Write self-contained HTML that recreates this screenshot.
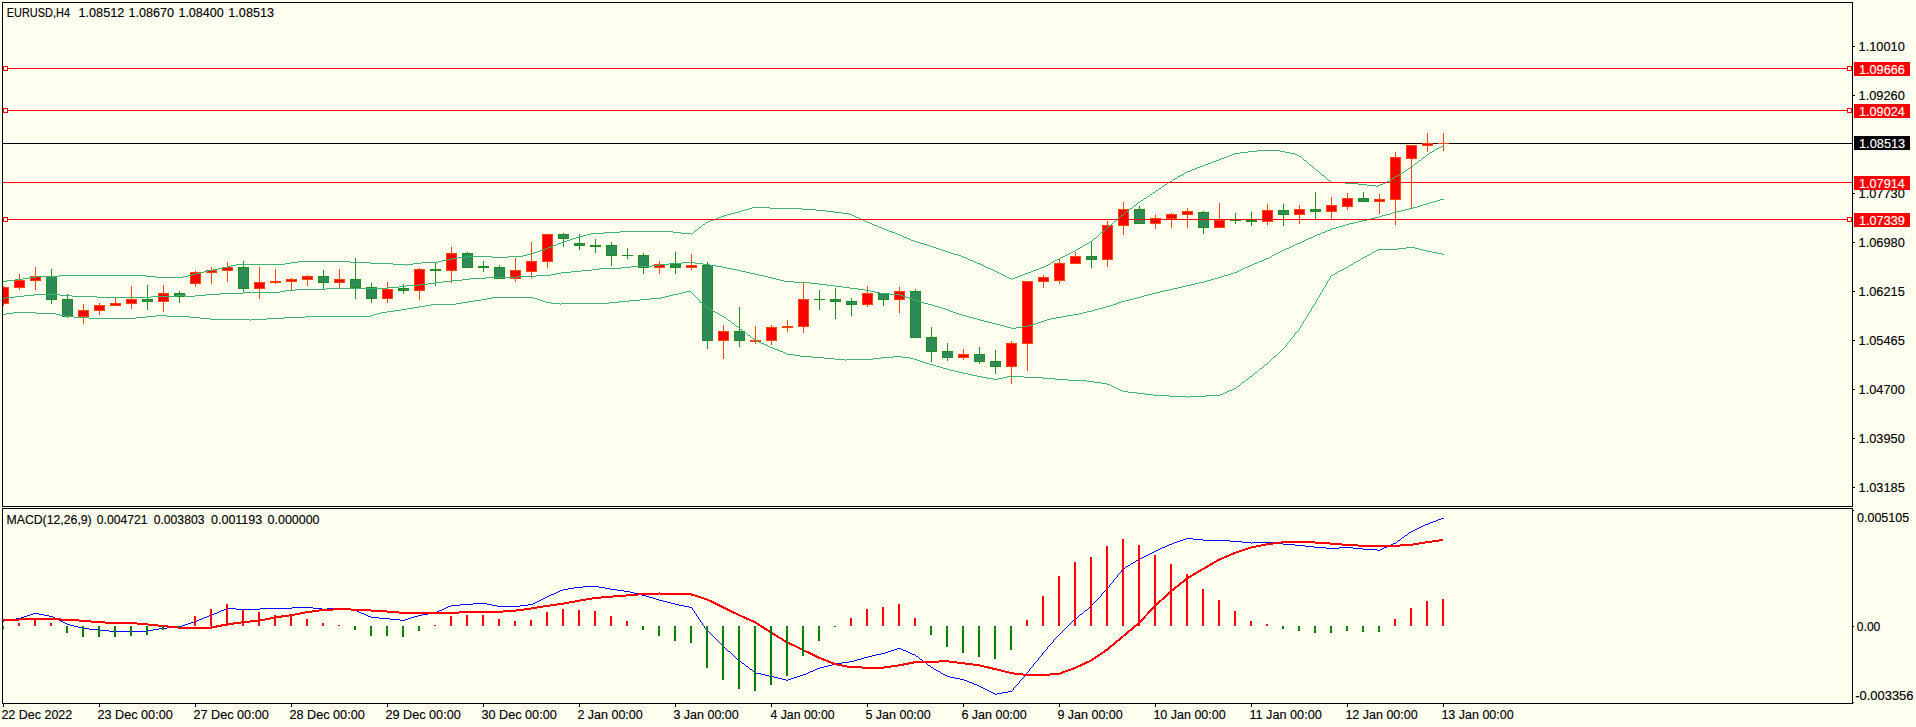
<!DOCTYPE html><html><head><meta charset="utf-8"><style>html,body{margin:0;padding:0;background:#FFFFF0;width:1916px;height:727px;overflow:hidden}svg{display:block}text{font-family:"Liberation Sans",sans-serif;font-size:12.5px;stroke-width:0.15px}</style></head><body>
<svg width="1916" height="727" viewBox="0 0 1916 727">
<rect x="0" y="0" width="1916" height="727" fill="#FFFFF0"/>
<defs><clipPath id="cm"><rect x="3" y="3" width="1849" height="503"/></clipPath><clipPath id="cd"><rect x="3" y="509" width="1849" height="194"/></clipPath></defs>
<g clip-path="url(#cm)" shape-rendering="crispEdges">
<rect x="3" y="143" width="1849" height="1" fill="#000000"/>
<rect x="3" y="286" width="1" height="20" fill="#FF4500"/>
<rect x="-2" y="287" width="11" height="17" fill="#FF4500"/>
<rect x="-1" y="288" width="9" height="15" fill="#FF0000"/>
<rect x="19" y="274" width="1" height="16" fill="#FF4500"/>
<rect x="14" y="280" width="11" height="8" fill="#FF4500"/>
<rect x="15" y="281" width="9" height="6" fill="#FF0000"/>
<rect x="35" y="267" width="1" height="23" fill="#FF4500"/>
<rect x="30" y="276" width="11" height="5" fill="#FF4500"/>
<rect x="31" y="277" width="9" height="3" fill="#FF0000"/>
<rect x="51" y="269" width="1" height="35" fill="#228B22"/>
<rect x="46" y="276" width="11" height="24" fill="#228B22"/>
<rect x="47" y="277" width="9" height="22" fill="#2E8B57"/>
<rect x="67" y="294" width="1" height="24" fill="#228B22"/>
<rect x="62" y="299" width="11" height="18" fill="#228B22"/>
<rect x="63" y="300" width="9" height="16" fill="#2E8B57"/>
<rect x="83" y="304" width="1" height="20" fill="#FF4500"/>
<rect x="78" y="310" width="11" height="7" fill="#FF4500"/>
<rect x="79" y="311" width="9" height="5" fill="#FF0000"/>
<rect x="99" y="303" width="1" height="12" fill="#FF4500"/>
<rect x="94" y="305" width="11" height="6" fill="#FF4500"/>
<rect x="95" y="306" width="9" height="4" fill="#FF0000"/>
<rect x="115" y="298" width="1" height="8" fill="#FF4500"/>
<rect x="110" y="303" width="11" height="3" fill="#FF4500"/>
<rect x="111" y="304" width="9" height="1" fill="#FF0000"/>
<rect x="131" y="286" width="1" height="23" fill="#FF4500"/>
<rect x="126" y="299" width="11" height="5" fill="#FF4500"/>
<rect x="127" y="300" width="9" height="3" fill="#FF0000"/>
<rect x="147" y="285" width="1" height="25" fill="#228B22"/>
<rect x="142" y="299" width="11" height="3" fill="#228B22"/>
<rect x="143" y="300" width="9" height="1" fill="#2E8B57"/>
<rect x="163" y="285" width="1" height="27" fill="#FF4500"/>
<rect x="158" y="293" width="11" height="9" fill="#FF4500"/>
<rect x="159" y="294" width="9" height="7" fill="#FF0000"/>
<rect x="179" y="291" width="1" height="12" fill="#228B22"/>
<rect x="174" y="293" width="11" height="4" fill="#228B22"/>
<rect x="175" y="294" width="9" height="2" fill="#2E8B57"/>
<rect x="195" y="271" width="1" height="16" fill="#FF4500"/>
<rect x="190" y="272" width="11" height="12" fill="#FF4500"/>
<rect x="191" y="273" width="9" height="10" fill="#FF0000"/>
<rect x="211" y="267" width="1" height="17" fill="#FF4500"/>
<rect x="206" y="270" width="11" height="3" fill="#FF4500"/>
<rect x="207" y="271" width="9" height="1" fill="#FF0000"/>
<rect x="227" y="262" width="1" height="20" fill="#FF4500"/>
<rect x="222" y="267" width="11" height="4" fill="#FF4500"/>
<rect x="223" y="268" width="9" height="2" fill="#FF0000"/>
<rect x="243" y="261" width="1" height="32" fill="#228B22"/>
<rect x="238" y="267" width="11" height="22" fill="#228B22"/>
<rect x="239" y="268" width="9" height="20" fill="#2E8B57"/>
<rect x="259" y="267" width="1" height="32" fill="#FF4500"/>
<rect x="254" y="282" width="11" height="7" fill="#FF4500"/>
<rect x="255" y="283" width="9" height="5" fill="#FF0000"/>
<rect x="275" y="269" width="1" height="15" fill="#FF4500"/>
<rect x="270" y="281" width="11" height="2" fill="#FF4500"/>
<rect x="291" y="278" width="1" height="12" fill="#FF4500"/>
<rect x="286" y="279" width="11" height="3" fill="#FF4500"/>
<rect x="287" y="280" width="9" height="1" fill="#FF0000"/>
<rect x="307" y="275" width="1" height="11" fill="#FF4500"/>
<rect x="302" y="276" width="11" height="4" fill="#FF4500"/>
<rect x="303" y="277" width="9" height="2" fill="#FF0000"/>
<rect x="323" y="270" width="1" height="19" fill="#228B22"/>
<rect x="318" y="276" width="11" height="7" fill="#228B22"/>
<rect x="319" y="277" width="9" height="5" fill="#2E8B57"/>
<rect x="339" y="269" width="1" height="19" fill="#FF4500"/>
<rect x="334" y="279" width="11" height="4" fill="#FF4500"/>
<rect x="335" y="280" width="9" height="2" fill="#FF0000"/>
<rect x="355" y="258" width="1" height="41" fill="#228B22"/>
<rect x="350" y="279" width="11" height="9" fill="#228B22"/>
<rect x="351" y="280" width="9" height="7" fill="#2E8B57"/>
<rect x="371" y="283" width="1" height="20" fill="#228B22"/>
<rect x="366" y="287" width="11" height="12" fill="#228B22"/>
<rect x="367" y="288" width="9" height="10" fill="#2E8B57"/>
<rect x="387" y="282" width="1" height="21" fill="#FF4500"/>
<rect x="382" y="289" width="11" height="10" fill="#FF4500"/>
<rect x="383" y="290" width="9" height="8" fill="#FF0000"/>
<rect x="403" y="284" width="1" height="10" fill="#228B22"/>
<rect x="398" y="288" width="11" height="3" fill="#228B22"/>
<rect x="399" y="289" width="9" height="1" fill="#2E8B57"/>
<rect x="419" y="268" width="1" height="32" fill="#FF4500"/>
<rect x="414" y="269" width="11" height="22" fill="#FF4500"/>
<rect x="415" y="270" width="9" height="20" fill="#FF0000"/>
<rect x="435" y="262" width="1" height="24" fill="#228B22"/>
<rect x="430" y="269" width="11" height="2" fill="#228B22"/>
<rect x="451" y="247" width="1" height="36" fill="#FF4500"/>
<rect x="446" y="253" width="11" height="18" fill="#FF4500"/>
<rect x="447" y="254" width="9" height="16" fill="#FF0000"/>
<rect x="467" y="252" width="1" height="16" fill="#228B22"/>
<rect x="462" y="253" width="11" height="15" fill="#228B22"/>
<rect x="463" y="254" width="9" height="13" fill="#2E8B57"/>
<rect x="483" y="261" width="1" height="11" fill="#228B22"/>
<rect x="478" y="266" width="11" height="2" fill="#228B22"/>
<rect x="499" y="265" width="1" height="14" fill="#228B22"/>
<rect x="494" y="267" width="11" height="12" fill="#228B22"/>
<rect x="495" y="268" width="9" height="10" fill="#2E8B57"/>
<rect x="515" y="258" width="1" height="24" fill="#FF4500"/>
<rect x="510" y="270" width="11" height="9" fill="#FF4500"/>
<rect x="511" y="271" width="9" height="7" fill="#FF0000"/>
<rect x="531" y="242" width="1" height="36" fill="#FF4500"/>
<rect x="526" y="261" width="11" height="11" fill="#FF4500"/>
<rect x="527" y="262" width="9" height="9" fill="#FF0000"/>
<rect x="547" y="234" width="1" height="34" fill="#FF4500"/>
<rect x="542" y="234" width="11" height="28" fill="#FF4500"/>
<rect x="543" y="235" width="9" height="26" fill="#FF0000"/>
<rect x="563" y="233" width="1" height="14" fill="#228B22"/>
<rect x="558" y="234" width="11" height="5" fill="#228B22"/>
<rect x="559" y="235" width="9" height="3" fill="#2E8B57"/>
<rect x="579" y="234" width="1" height="16" fill="#228B22"/>
<rect x="574" y="243" width="11" height="3" fill="#228B22"/>
<rect x="575" y="244" width="9" height="1" fill="#2E8B57"/>
<rect x="595" y="239" width="1" height="14" fill="#228B22"/>
<rect x="590" y="245" width="11" height="2" fill="#228B22"/>
<rect x="611" y="242" width="1" height="24" fill="#228B22"/>
<rect x="606" y="245" width="11" height="11" fill="#228B22"/>
<rect x="607" y="246" width="9" height="9" fill="#2E8B57"/>
<rect x="627" y="248" width="1" height="11" fill="#228B22"/>
<rect x="622" y="255" width="11" height="1" fill="#228B22"/>
<rect x="643" y="253" width="1" height="21" fill="#228B22"/>
<rect x="638" y="255" width="11" height="13" fill="#228B22"/>
<rect x="639" y="256" width="9" height="11" fill="#2E8B57"/>
<rect x="659" y="261" width="1" height="13" fill="#FF4500"/>
<rect x="654" y="264" width="11" height="4" fill="#FF4500"/>
<rect x="655" y="265" width="9" height="2" fill="#FF0000"/>
<rect x="675" y="252" width="1" height="22" fill="#228B22"/>
<rect x="670" y="264" width="11" height="4" fill="#228B22"/>
<rect x="671" y="265" width="9" height="2" fill="#2E8B57"/>
<rect x="691" y="254" width="1" height="16" fill="#FF4500"/>
<rect x="686" y="265" width="11" height="3" fill="#FF4500"/>
<rect x="687" y="266" width="9" height="1" fill="#FF0000"/>
<rect x="707" y="262" width="1" height="87" fill="#228B22"/>
<rect x="702" y="265" width="11" height="76" fill="#228B22"/>
<rect x="703" y="266" width="9" height="74" fill="#2E8B57"/>
<rect x="723" y="325" width="1" height="34" fill="#FF4500"/>
<rect x="718" y="331" width="11" height="10" fill="#FF4500"/>
<rect x="719" y="332" width="9" height="8" fill="#FF0000"/>
<rect x="739" y="307" width="1" height="40" fill="#228B22"/>
<rect x="734" y="331" width="11" height="10" fill="#228B22"/>
<rect x="735" y="332" width="9" height="8" fill="#2E8B57"/>
<rect x="755" y="326" width="1" height="18" fill="#FF4500"/>
<rect x="750" y="340" width="11" height="2" fill="#FF4500"/>
<rect x="771" y="325" width="1" height="20" fill="#FF4500"/>
<rect x="766" y="327" width="11" height="14" fill="#FF4500"/>
<rect x="767" y="328" width="9" height="12" fill="#FF0000"/>
<rect x="787" y="320" width="1" height="12" fill="#FF4500"/>
<rect x="782" y="326" width="11" height="2" fill="#FF4500"/>
<rect x="803" y="283" width="1" height="50" fill="#FF4500"/>
<rect x="798" y="299" width="11" height="28" fill="#FF4500"/>
<rect x="799" y="300" width="9" height="26" fill="#FF0000"/>
<rect x="819" y="290" width="1" height="20" fill="#228B22"/>
<rect x="814" y="299" width="11" height="1" fill="#228B22"/>
<rect x="835" y="288" width="1" height="31" fill="#228B22"/>
<rect x="830" y="299" width="11" height="3" fill="#228B22"/>
<rect x="831" y="300" width="9" height="1" fill="#2E8B57"/>
<rect x="851" y="298" width="1" height="18" fill="#228B22"/>
<rect x="846" y="301" width="11" height="4" fill="#228B22"/>
<rect x="847" y="302" width="9" height="2" fill="#2E8B57"/>
<rect x="867" y="286" width="1" height="21" fill="#FF4500"/>
<rect x="862" y="293" width="11" height="12" fill="#FF4500"/>
<rect x="863" y="294" width="9" height="10" fill="#FF0000"/>
<rect x="883" y="293" width="1" height="13" fill="#228B22"/>
<rect x="878" y="293" width="11" height="7" fill="#228B22"/>
<rect x="879" y="294" width="9" height="5" fill="#2E8B57"/>
<rect x="899" y="287" width="1" height="26" fill="#FF4500"/>
<rect x="894" y="291" width="11" height="9" fill="#FF4500"/>
<rect x="895" y="292" width="9" height="7" fill="#FF0000"/>
<rect x="915" y="289" width="1" height="49" fill="#228B22"/>
<rect x="910" y="291" width="11" height="47" fill="#228B22"/>
<rect x="911" y="292" width="9" height="45" fill="#2E8B57"/>
<rect x="931" y="327" width="1" height="35" fill="#228B22"/>
<rect x="926" y="337" width="11" height="15" fill="#228B22"/>
<rect x="927" y="338" width="9" height="13" fill="#2E8B57"/>
<rect x="947" y="343" width="1" height="18" fill="#228B22"/>
<rect x="942" y="351" width="11" height="7" fill="#228B22"/>
<rect x="943" y="352" width="9" height="5" fill="#2E8B57"/>
<rect x="963" y="349" width="1" height="11" fill="#FF4500"/>
<rect x="958" y="354" width="11" height="4" fill="#FF4500"/>
<rect x="959" y="355" width="9" height="2" fill="#FF0000"/>
<rect x="979" y="347" width="1" height="17" fill="#228B22"/>
<rect x="974" y="354" width="11" height="8" fill="#228B22"/>
<rect x="975" y="355" width="9" height="6" fill="#2E8B57"/>
<rect x="995" y="350" width="1" height="24" fill="#228B22"/>
<rect x="990" y="361" width="11" height="6" fill="#228B22"/>
<rect x="991" y="362" width="9" height="4" fill="#2E8B57"/>
<rect x="1011" y="341" width="1" height="43" fill="#FF4500"/>
<rect x="1006" y="343" width="11" height="24" fill="#FF4500"/>
<rect x="1007" y="344" width="9" height="22" fill="#FF0000"/>
<rect x="1027" y="281" width="1" height="90" fill="#FF4500"/>
<rect x="1022" y="281" width="11" height="63" fill="#FF4500"/>
<rect x="1023" y="282" width="9" height="61" fill="#FF0000"/>
<rect x="1043" y="275" width="1" height="13" fill="#FF4500"/>
<rect x="1038" y="277" width="11" height="5" fill="#FF4500"/>
<rect x="1039" y="278" width="9" height="3" fill="#FF0000"/>
<rect x="1059" y="259" width="1" height="25" fill="#FF4500"/>
<rect x="1054" y="263" width="11" height="18" fill="#FF4500"/>
<rect x="1055" y="264" width="9" height="16" fill="#FF0000"/>
<rect x="1075" y="252" width="1" height="12" fill="#FF4500"/>
<rect x="1070" y="256" width="11" height="8" fill="#FF4500"/>
<rect x="1071" y="257" width="9" height="6" fill="#FF0000"/>
<rect x="1091" y="241" width="1" height="27" fill="#228B22"/>
<rect x="1086" y="256" width="11" height="4" fill="#228B22"/>
<rect x="1087" y="257" width="9" height="2" fill="#2E8B57"/>
<rect x="1107" y="221" width="1" height="46" fill="#FF4500"/>
<rect x="1102" y="225" width="11" height="35" fill="#FF4500"/>
<rect x="1103" y="226" width="9" height="33" fill="#FF0000"/>
<rect x="1123" y="202" width="1" height="33" fill="#FF4500"/>
<rect x="1118" y="209" width="11" height="17" fill="#FF4500"/>
<rect x="1119" y="210" width="9" height="15" fill="#FF0000"/>
<rect x="1139" y="206" width="1" height="18" fill="#228B22"/>
<rect x="1134" y="209" width="11" height="15" fill="#228B22"/>
<rect x="1135" y="210" width="9" height="13" fill="#2E8B57"/>
<rect x="1155" y="215" width="1" height="14" fill="#FF4500"/>
<rect x="1150" y="218" width="11" height="6" fill="#FF4500"/>
<rect x="1151" y="219" width="9" height="4" fill="#FF0000"/>
<rect x="1171" y="213" width="1" height="15" fill="#FF4500"/>
<rect x="1166" y="214" width="11" height="5" fill="#FF4500"/>
<rect x="1167" y="215" width="9" height="3" fill="#FF0000"/>
<rect x="1187" y="208" width="1" height="20" fill="#FF4500"/>
<rect x="1182" y="211" width="11" height="4" fill="#FF4500"/>
<rect x="1183" y="212" width="9" height="2" fill="#FF0000"/>
<rect x="1203" y="211" width="1" height="23" fill="#228B22"/>
<rect x="1198" y="212" width="11" height="16" fill="#228B22"/>
<rect x="1199" y="213" width="9" height="14" fill="#2E8B57"/>
<rect x="1219" y="203" width="1" height="25" fill="#FF4500"/>
<rect x="1214" y="220" width="11" height="8" fill="#FF4500"/>
<rect x="1215" y="221" width="9" height="6" fill="#FF0000"/>
<rect x="1235" y="213" width="1" height="11" fill="#228B22"/>
<rect x="1230" y="220" width="11" height="1" fill="#228B22"/>
<rect x="1251" y="212" width="1" height="14" fill="#228B22"/>
<rect x="1246" y="220" width="11" height="2" fill="#228B22"/>
<rect x="1267" y="204" width="1" height="21" fill="#FF4500"/>
<rect x="1262" y="210" width="11" height="12" fill="#FF4500"/>
<rect x="1263" y="211" width="9" height="10" fill="#FF0000"/>
<rect x="1283" y="204" width="1" height="22" fill="#228B22"/>
<rect x="1278" y="210" width="11" height="5" fill="#228B22"/>
<rect x="1279" y="211" width="9" height="3" fill="#2E8B57"/>
<rect x="1299" y="205" width="1" height="19" fill="#FF4500"/>
<rect x="1294" y="209" width="11" height="6" fill="#FF4500"/>
<rect x="1295" y="210" width="9" height="4" fill="#FF0000"/>
<rect x="1315" y="192" width="1" height="28" fill="#228B22"/>
<rect x="1310" y="209" width="11" height="3" fill="#228B22"/>
<rect x="1311" y="210" width="9" height="1" fill="#2E8B57"/>
<rect x="1331" y="197" width="1" height="23" fill="#FF4500"/>
<rect x="1326" y="205" width="11" height="7" fill="#FF4500"/>
<rect x="1327" y="206" width="9" height="5" fill="#FF0000"/>
<rect x="1347" y="193" width="1" height="17" fill="#FF4500"/>
<rect x="1342" y="198" width="11" height="9" fill="#FF4500"/>
<rect x="1343" y="199" width="9" height="7" fill="#FF0000"/>
<rect x="1363" y="192" width="1" height="10" fill="#228B22"/>
<rect x="1358" y="198" width="11" height="4" fill="#228B22"/>
<rect x="1359" y="199" width="9" height="2" fill="#2E8B57"/>
<rect x="1379" y="194" width="1" height="20" fill="#FF4500"/>
<rect x="1374" y="199" width="11" height="3" fill="#FF4500"/>
<rect x="1375" y="200" width="9" height="1" fill="#FF0000"/>
<rect x="1395" y="152" width="1" height="73" fill="#FF4500"/>
<rect x="1390" y="157" width="11" height="43" fill="#FF4500"/>
<rect x="1391" y="158" width="9" height="41" fill="#FF0000"/>
<rect x="1411" y="145" width="1" height="64" fill="#FF4500"/>
<rect x="1406" y="145" width="11" height="14" fill="#FF4500"/>
<rect x="1407" y="146" width="9" height="12" fill="#FF0000"/>
<rect x="1427" y="133" width="1" height="19" fill="#FF4500"/>
<rect x="1422" y="143" width="11" height="3" fill="#FF4500"/>
<rect x="1423" y="144" width="9" height="1" fill="#FF0000"/>
<rect x="1443" y="133" width="1" height="18" fill="#FF4500"/>
<rect x="1438" y="143" width="11" height="1" fill="#FF4500"/>
</g>
<g clip-path="url(#cm)">
<path fill="#3CB371" d="M1443 145h1v1h-1zM1441 146h2v1h-2zM1439 147h2v1h-2zM1437 148h2v1h-2zM1435 149h2v1h-2zM1257 150h23v1h-23zM1434 150h1v1h-1zM1248 151h9v1h-9zM1280 151h5v1h-5zM1432 151h2v1h-2zM1240 152h8v1h-8zM1285 152h5v1h-5zM1430 152h2v1h-2zM1234 153h6v1h-6zM1290 153h5v1h-5zM1429 153h1v1h-1zM1232 154h2v1h-2zM1295 154h2v1h-2zM1427 154h2v1h-2zM1229 155h3v1h-3zM1297 155h2v1h-2zM1426 155h1v1h-1zM1227 156h2v1h-2zM1299 156h2v1h-2zM1425 156h1v1h-1zM1224 157h3v1h-3zM1301 157h1v1h-1zM1423 157h2v1h-2zM1221 158h3v1h-3zM1302 158h1v1h-1zM1422 158h1v1h-1zM1219 159h2v1h-2zM1303 159h1v1h-1zM1421 159h1v1h-1zM1216 160h3v1h-3zM1304 160h2v1h-2zM1419 160h2v1h-2zM1213 161h3v1h-3zM1306 161h1v1h-1zM1418 161h1v1h-1zM1211 162h2v1h-2zM1307 162h1v1h-1zM1417 162h1v1h-1zM1208 163h3v1h-3zM1308 163h1v1h-1zM1415 163h2v1h-2zM1205 164h3v1h-3zM1309 164h1v1h-1zM1414 164h1v1h-1zM1203 165h2v1h-2zM1310 165h2v1h-2zM1413 165h1v1h-1zM1200 166h3v1h-3zM1312 166h1v1h-1zM1411 166h2v1h-2zM1197 167h3v1h-3zM1313 167h1v1h-1zM1410 167h1v1h-1zM1195 168h2v1h-2zM1314 168h1v1h-1zM1408 168h2v1h-2zM1192 169h3v1h-3zM1315 169h1v1h-1zM1407 169h1v1h-1zM1190 170h2v1h-2zM1316 170h2v1h-2zM1405 170h2v1h-2zM1187 171h3v1h-3zM1318 171h1v1h-1zM1404 171h1v1h-1zM1185 172h2v1h-2zM1319 172h1v1h-1zM1402 172h2v1h-2zM1184 173h1v1h-1zM1320 173h1v1h-1zM1400 173h2v1h-2zM1182 174h2v1h-2zM1321 174h1v1h-1zM1399 174h1v1h-1zM1180 175h2v1h-2zM1322 175h2v1h-2zM1397 175h2v1h-2zM1178 176h2v1h-2zM1324 176h1v1h-1zM1395 176h2v1h-2zM1177 177h1v1h-1zM1325 177h1v1h-1zM1394 177h1v1h-1zM1175 178h2v1h-2zM1326 178h1v1h-1zM1392 178h2v1h-2zM1173 179h2v1h-2zM1327 179h1v1h-1zM1391 179h1v1h-1zM1172 180h1v1h-1zM1328 180h2v1h-2zM1389 180h2v1h-2zM1170 181h2v1h-2zM1330 181h1v1h-1zM1387 181h2v1h-2zM1168 182h2v1h-2zM1331 182h14v1h-14zM1385 182h2v1h-2zM1167 183h1v1h-1zM1345 183h13v1h-13zM1383 183h2v1h-2zM1165 184h2v1h-2zM1358 184h9v1h-9zM1380 184h3v1h-3zM1164 185h1v1h-1zM1367 185h9v1h-9zM1378 185h2v1h-2zM1162 186h2v1h-2zM1376 186h2v1h-2zM1161 187h1v1h-1zM1159 188h2v1h-2zM1158 189h1v1h-1zM1156 190h2v1h-2zM1155 191h1v1h-1zM1153 192h2v1h-2zM1152 193h1v1h-1zM1150 194h2v1h-2zM1149 195h1v1h-1zM1147 196h2v1h-2zM1146 197h1v1h-1zM1144 198h2v1h-2zM1143 199h1v1h-1zM1141 200h2v1h-2zM1140 201h1v1h-1zM1138 202h2v1h-2zM1137 203h1v1h-1zM1136 204h1v1h-1zM1134 205h2v1h-2zM1133 206h1v1h-1zM752 207h18v1h-18zM1132 207h1v1h-1zM749 208h3v1h-3zM770 208h32v1h-32zM1130 208h2v1h-2zM745 209h4v1h-4zM802 209h14v1h-14zM1129 209h1v1h-1zM742 210h3v1h-3zM816 210h10v1h-10zM1128 210h1v1h-1zM739 211h3v1h-3zM826 211h8v1h-8zM1126 211h2v1h-2zM735 212h4v1h-4zM834 212h8v1h-8zM1125 212h1v1h-1zM731 213h4v1h-4zM842 213h7v1h-7zM1124 213h1v1h-1zM727 214h4v1h-4zM849 214h3v1h-3zM1123 214h1v1h-1zM724 215h3v1h-3zM852 215h2v1h-2zM1121 215h2v1h-2zM721 216h3v1h-3zM854 216h2v1h-2zM1120 216h1v1h-1zM718 217h3v1h-3zM856 217h3v1h-3zM1119 217h1v1h-1zM716 218h2v1h-2zM859 218h2v1h-2zM1118 218h1v1h-1zM713 219h3v1h-3zM861 219h2v1h-2zM1117 219h1v1h-1zM710 220h3v1h-3zM863 220h2v1h-2zM1116 220h1v1h-1zM708 221h2v1h-2zM865 221h2v1h-2zM1114 221h2v1h-2zM706 222h2v1h-2zM867 222h3v1h-3zM1113 222h1v1h-1zM705 223h1v1h-1zM870 223h2v1h-2zM1112 223h1v1h-1zM703 224h2v1h-2zM872 224h2v1h-2zM1111 224h1v1h-1zM702 225h1v1h-1zM874 225h3v1h-3zM1110 225h1v1h-1zM701 226h1v1h-1zM877 226h2v1h-2zM1108 226h2v1h-2zM699 227h2v1h-2zM879 227h3v1h-3zM1107 227h1v1h-1zM698 228h1v1h-1zM882 228h2v1h-2zM1106 228h1v1h-1zM697 229h1v1h-1zM884 229h3v1h-3zM1105 229h1v1h-1zM695 230h2v1h-2zM887 230h2v1h-2zM1104 230h1v1h-1zM620 231h53v1h-53zM694 231h1v1h-1zM889 231h3v1h-3zM1103 231h1v1h-1zM604 232h16v1h-16zM673 232h8v1h-8zM693 232h1v1h-1zM892 232h3v1h-3zM1101 232h2v1h-2zM591 233h13v1h-13zM681 233h10v1h-10zM692 233h1v1h-1zM895 233h2v1h-2zM1100 233h1v1h-1zM587 234h4v1h-4zM691 234h1v1h-1zM897 234h3v1h-3zM1099 234h1v1h-1zM583 235h4v1h-4zM900 235h2v1h-2zM1098 235h1v1h-1zM579 236h4v1h-4zM902 236h2v1h-2zM1097 236h1v1h-1zM576 237h3v1h-3zM904 237h3v1h-3zM1096 237h1v1h-1zM573 238h3v1h-3zM907 238h2v1h-2zM1094 238h2v1h-2zM570 239h3v1h-3zM909 239h2v1h-2zM1093 239h1v1h-1zM567 240h3v1h-3zM911 240h3v1h-3zM1092 240h1v1h-1zM564 241h3v1h-3zM914 241h3v1h-3zM1090 241h2v1h-2zM561 242h3v1h-3zM917 242h3v1h-3zM1089 242h1v1h-1zM558 243h3v1h-3zM920 243h4v1h-4zM1087 243h2v1h-2zM556 244h2v1h-2zM924 244h3v1h-3zM1085 244h2v1h-2zM553 245h3v1h-3zM927 245h3v1h-3zM1083 245h2v1h-2zM551 246h2v1h-2zM930 246h3v1h-3zM1082 246h1v1h-1zM548 247h3v1h-3zM933 247h3v1h-3zM1080 247h2v1h-2zM546 248h2v1h-2zM936 248h3v1h-3zM1078 248h2v1h-2zM543 249h3v1h-3zM939 249h3v1h-3zM1076 249h2v1h-2zM540 250h3v1h-3zM942 250h3v1h-3zM1075 250h1v1h-1zM537 251h3v1h-3zM945 251h3v1h-3zM1073 251h2v1h-2zM534 252h3v1h-3zM948 252h3v1h-3zM1071 252h2v1h-2zM532 253h2v1h-2zM951 253h3v1h-3zM1069 253h2v1h-2zM527 254h5v1h-5zM954 254h4v1h-4zM1067 254h2v1h-2zM523 255h4v1h-4zM958 255h3v1h-3zM1065 255h2v1h-2zM466 256h26v1h-26zM508 256h15v1h-15zM961 256h2v1h-2zM1063 256h2v1h-2zM458 257h8v1h-8zM492 257h16v1h-16zM963 257h3v1h-3zM1061 257h2v1h-2zM452 258h6v1h-6zM966 258h2v1h-2zM1059 258h2v1h-2zM447 259h5v1h-5zM968 259h2v1h-2zM1057 259h2v1h-2zM442 260h5v1h-5zM970 260h3v1h-3zM1055 260h2v1h-2zM298 261h52v1h-52zM438 261h4v1h-4zM973 261h2v1h-2zM1053 261h2v1h-2zM291 262h7v1h-7zM350 262h20v1h-20zM421 262h17v1h-17zM975 262h2v1h-2zM1051 262h2v1h-2zM285 263h6v1h-6zM370 263h23v1h-23zM413 263h8v1h-8zM977 263h3v1h-3zM1050 263h1v1h-1zM236 264h49v1h-49zM393 264h13v1h-13zM407 264h6v1h-6zM980 264h2v1h-2zM1048 264h2v1h-2zM231 265h5v1h-5zM406 265h1v1h-1zM982 265h2v1h-2zM1046 265h2v1h-2zM227 266h4v1h-4zM984 266h2v1h-2zM1044 266h2v1h-2zM223 267h4v1h-4zM986 267h2v1h-2zM1041 267h3v1h-3zM218 268h5v1h-5zM988 268h3v1h-3zM1039 268h2v1h-2zM213 269h5v1h-5zM991 269h2v1h-2zM1036 269h3v1h-3zM208 270h5v1h-5zM993 270h2v1h-2zM1033 270h3v1h-3zM204 271h4v1h-4zM995 271h2v1h-2zM1031 271h2v1h-2zM200 272h4v1h-4zM997 272h2v1h-2zM1028 272h3v1h-3zM196 273h4v1h-4zM999 273h2v1h-2zM1025 273h3v1h-3zM192 274h4v1h-4zM1001 274h2v1h-2zM1023 274h2v1h-2zM59 275h87v1h-87zM188 275h4v1h-4zM1003 275h2v1h-2zM1020 275h3v1h-3zM36 276h23v1h-23zM146 276h10v1h-10zM183 276h5v1h-5zM1005 276h2v1h-2zM1018 276h2v1h-2zM29 277h7v1h-7zM156 277h27v1h-27zM1007 277h2v1h-2zM1015 277h3v1h-3zM23 278h6v1h-6zM1009 278h2v1h-2zM1012 278h3v1h-3zM15 279h8v1h-8zM1011 279h1v1h-1zM7 280h8v1h-8zM0 281h7v1h-7z"/>
<path fill="#3CB371" d="M1440 199h4v1h-4zM1437 200h3v1h-3zM1433 201h4v1h-4zM1430 202h3v1h-3zM1427 203h3v1h-3zM1423 204h4v1h-4zM1420 205h3v1h-3zM1417 206h3v1h-3zM1413 207h4v1h-4zM1409 208h4v1h-4zM1405 209h4v1h-4zM1401 210h4v1h-4zM1397 211h4v1h-4zM1393 212h4v1h-4zM1390 213h3v1h-3zM1386 214h4v1h-4zM1382 215h4v1h-4zM1379 216h3v1h-3zM1375 217h4v1h-4zM1371 218h4v1h-4zM1367 219h4v1h-4zM1362 220h5v1h-5zM1358 221h4v1h-4zM1354 222h4v1h-4zM1349 223h5v1h-5zM1346 224h3v1h-3zM1343 225h3v1h-3zM1339 226h4v1h-4zM1336 227h3v1h-3zM1332 228h4v1h-4zM1330 229h2v1h-2zM1327 230h3v1h-3zM1325 231h2v1h-2zM1322 232h3v1h-3zM1320 233h2v1h-2zM1317 234h3v1h-3zM1315 235h2v1h-2zM1313 236h2v1h-2zM1311 237h2v1h-2zM1308 238h3v1h-3zM1306 239h2v1h-2zM1304 240h2v1h-2zM1302 241h2v1h-2zM1300 242h2v1h-2zM1297 243h3v1h-3zM1295 244h2v1h-2zM1293 245h2v1h-2zM1291 246h2v1h-2zM1289 247h2v1h-2zM1286 248h3v1h-3zM1284 249h2v1h-2zM1282 250h2v1h-2zM1280 251h2v1h-2zM1278 252h2v1h-2zM1276 253h2v1h-2zM1274 254h2v1h-2zM1272 255h2v1h-2zM1271 256h1v1h-1zM1269 257h2v1h-2zM1266 258h3v1h-3zM1264 259h2v1h-2zM1262 260h2v1h-2zM1259 261h3v1h-3zM682 262h13v1h-13zM1257 262h2v1h-2zM669 263h13v1h-13zM695 263h8v1h-8zM1254 263h3v1h-3zM660 264h9v1h-9zM703 264h7v1h-7zM1252 264h2v1h-2zM652 265h8v1h-8zM710 265h6v1h-6zM1250 265h2v1h-2zM631 266h21v1h-21zM716 266h6v1h-6zM1248 266h2v1h-2zM621 267h10v1h-10zM722 267h5v1h-5zM1245 267h3v1h-3zM599 268h22v1h-22zM727 268h5v1h-5zM1243 268h2v1h-2zM592 269h7v1h-7zM732 269h5v1h-5zM1241 269h2v1h-2zM581 270h11v1h-11zM737 270h4v1h-4zM1239 270h2v1h-2zM571 271h10v1h-10zM741 271h5v1h-5zM1237 271h2v1h-2zM561 272h10v1h-10zM746 272h4v1h-4zM1234 272h3v1h-3zM556 273h5v1h-5zM750 273h5v1h-5zM1231 273h3v1h-3zM551 274h5v1h-5zM755 274h4v1h-4zM1228 274h3v1h-3zM536 275h15v1h-15zM759 275h5v1h-5zM1224 275h4v1h-4zM517 276h19v1h-19zM764 276h4v1h-4zM1221 276h3v1h-3zM486 277h31v1h-31zM768 277h4v1h-4zM1218 277h3v1h-3zM470 278h16v1h-16zM772 278h4v1h-4zM1214 278h4v1h-4zM462 279h8v1h-8zM776 279h4v1h-4zM1211 279h3v1h-3zM452 280h10v1h-10zM780 280h4v1h-4zM1207 280h4v1h-4zM443 281h9v1h-9zM784 281h10v1h-10zM1204 281h3v1h-3zM436 282h7v1h-7zM794 282h16v1h-16zM1199 282h5v1h-5zM428 283h8v1h-8zM810 283h9v1h-9zM1195 283h4v1h-4zM419 284h9v1h-9zM819 284h8v1h-8zM1191 284h4v1h-4zM406 285h13v1h-13zM827 285h8v1h-8zM1186 285h5v1h-5zM399 286h7v1h-7zM835 286h8v1h-8zM1182 286h4v1h-4zM388 287h11v1h-11zM843 287h7v1h-7zM1178 287h4v1h-4zM326 288h62v1h-62zM850 288h8v1h-8zM1173 288h5v1h-5zM295 289h31v1h-31zM858 289h7v1h-7zM1169 289h4v1h-4zM285 290h10v1h-10zM865 290h5v1h-5zM1164 290h5v1h-5zM280 291h5v1h-5zM870 291h5v1h-5zM1160 291h4v1h-4zM243 292h37v1h-37zM875 292h5v1h-5zM1156 292h4v1h-4zM220 293h23v1h-23zM880 293h10v1h-10zM1152 293h4v1h-4zM34 294h26v1h-26zM206 294h14v1h-14zM890 294h10v1h-10zM1148 294h4v1h-4zM24 295h10v1h-10zM60 295h12v1h-12zM177 295h9v1h-9zM195 295h11v1h-11zM900 295h3v1h-3zM1144 295h4v1h-4zM15 296h9v1h-9zM72 296h25v1h-25zM151 296h26v1h-26zM186 296h9v1h-9zM903 296h3v1h-3zM1141 296h3v1h-3zM6 297h9v1h-9zM97 297h54v1h-54zM906 297h3v1h-3zM1137 297h4v1h-4zM0 298h6v1h-6zM909 298h3v1h-3zM1133 298h4v1h-4zM912 299h3v1h-3zM1129 299h4v1h-4zM915 300h3v1h-3zM1125 300h4v1h-4zM918 301h2v1h-2zM1121 301h4v1h-4zM920 302h4v1h-4zM1118 302h3v1h-3zM924 303h4v1h-4zM1116 303h2v1h-2zM928 304h4v1h-4zM1113 304h3v1h-3zM932 305h3v1h-3zM1110 305h3v1h-3zM935 306h4v1h-4zM1106 306h4v1h-4zM939 307h3v1h-3zM1103 307h3v1h-3zM942 308h3v1h-3zM1099 308h4v1h-4zM945 309h3v1h-3zM1095 309h4v1h-4zM948 310h2v1h-2zM1092 310h3v1h-3zM950 311h3v1h-3zM1087 311h5v1h-5zM953 312h3v1h-3zM1083 312h4v1h-4zM956 313h3v1h-3zM1079 313h4v1h-4zM959 314h3v1h-3zM1073 314h6v1h-6zM962 315h4v1h-4zM1067 315h6v1h-6zM966 316h3v1h-3zM1062 316h5v1h-5zM969 317h4v1h-4zM1056 317h6v1h-6zM973 318h4v1h-4zM1051 318h5v1h-5zM977 319h3v1h-3zM1047 319h4v1h-4zM980 320h4v1h-4zM1044 320h3v1h-3zM984 321h4v1h-4zM1041 321h3v1h-3zM988 322h4v1h-4zM1038 322h3v1h-3zM992 323h4v1h-4zM1035 323h3v1h-3zM996 324h4v1h-4zM1032 324h3v1h-3zM1000 325h4v1h-4zM1028 325h4v1h-4zM1004 326h3v1h-3zM1022 326h6v1h-6zM1007 327h4v1h-4zM1016 327h6v1h-6zM1011 328h5v1h-5z"/>
<path fill="#3CB371" d="M1406 247h9v1h-9zM1398 248h8v1h-8zM1415 248h4v1h-4zM1378 249h20v1h-20zM1419 249h4v1h-4zM1376 250h2v1h-2zM1423 250h4v1h-4zM1374 251h2v1h-2zM1427 251h5v1h-5zM1372 252h2v1h-2zM1432 252h5v1h-5zM1371 253h1v1h-1zM1437 253h5v1h-5zM1369 254h2v1h-2zM1442 254h2v1h-2zM1367 255h2v1h-2zM1365 256h2v1h-2zM1363 257h2v1h-2zM1361 258h2v1h-2zM1360 259h1v1h-1zM1358 260h2v1h-2zM1356 261h2v1h-2zM1354 262h2v1h-2zM1353 263h1v1h-1zM1351 264h2v1h-2zM1349 265h2v1h-2zM1348 266h1v1h-1zM1346 267h2v1h-2zM1344 268h2v1h-2zM1342 269h2v1h-2zM1340 270h2v1h-2zM1338 271h2v1h-2zM1337 272h1v1h-1zM1335 273h2v1h-2zM1333 274h2v1h-2zM1331 275h2v1h-2zM1330 276h1v1h-1zM1330 277h1v1h-1zM1329 278h1v1h-1zM1329 279h1v1h-1zM1328 280h1v1h-1zM1327 281h1v1h-1zM1327 282h1v1h-1zM1326 283h1v1h-1zM1326 284h1v1h-1zM1325 285h1v1h-1zM1325 286h1v1h-1zM1324 287h1v1h-1zM1323 288h1v1h-1zM1323 289h1v1h-1zM1322 290h1v1h-1zM686 291h5v1h-5zM1322 291h1v1h-1zM682 292h4v1h-4zM691 292h1v1h-1zM1321 292h1v1h-1zM678 293h4v1h-4zM692 293h1v1h-1zM1320 293h1v1h-1zM673 294h5v1h-5zM693 294h1v1h-1zM1320 294h1v1h-1zM669 295h4v1h-4zM694 295h1v1h-1zM1319 295h1v1h-1zM665 296h4v1h-4zM695 296h1v1h-1zM1319 296h1v1h-1zM492 297h41v1h-41zM661 297h4v1h-4zM696 297h1v1h-1zM1318 297h1v1h-1zM487 298h5v1h-5zM533 298h4v1h-4zM650 298h11v1h-11zM697 298h1v1h-1zM1317 298h1v1h-1zM481 299h6v1h-6zM537 299h3v1h-3zM640 299h10v1h-10zM698 299h1v1h-1zM1317 299h1v1h-1zM474 300h7v1h-7zM540 300h3v1h-3zM629 300h11v1h-11zM699 300h1v1h-1zM1316 300h1v1h-1zM468 301h6v1h-6zM543 301h3v1h-3zM619 301h10v1h-10zM699 301h1v1h-1zM1316 301h1v1h-1zM462 302h6v1h-6zM546 302h5v1h-5zM609 302h10v1h-10zM700 302h2v1h-2zM1315 302h1v1h-1zM456 303h6v1h-6zM551 303h9v1h-9zM561 303h48v1h-48zM702 303h1v1h-1zM1315 303h1v1h-1zM431 304h25v1h-25zM560 304h1v1h-1zM703 304h1v1h-1zM1314 304h1v1h-1zM425 305h6v1h-6zM704 305h2v1h-2zM1313 305h1v1h-1zM419 306h6v1h-6zM706 306h1v1h-1zM1313 306h1v1h-1zM413 307h6v1h-6zM707 307h1v1h-1zM1312 307h1v1h-1zM407 308h6v1h-6zM708 308h2v1h-2zM1311 308h1v1h-1zM401 309h6v1h-6zM710 309h1v1h-1zM1311 309h1v1h-1zM394 310h7v1h-7zM711 310h2v1h-2zM1310 310h1v1h-1zM387 311h7v1h-7zM713 311h2v1h-2zM1310 311h1v1h-1zM13 312h23v1h-23zM381 312h6v1h-6zM715 312h2v1h-2zM1309 312h1v1h-1zM6 313h7v1h-7zM36 313h20v1h-20zM377 313h4v1h-4zM717 313h2v1h-2zM1308 313h1v1h-1zM0 314h6v1h-6zM56 314h4v1h-4zM374 314h3v1h-3zM719 314h1v1h-1zM1308 314h1v1h-1zM60 315h5v1h-5zM156 315h11v1h-11zM371 315h3v1h-3zM720 315h2v1h-2zM1307 315h1v1h-1zM65 316h9v1h-9zM146 316h10v1h-10zM167 316h23v1h-23zM305 316h66v1h-66zM722 316h2v1h-2zM1307 316h1v1h-1zM74 317h15v1h-15zM136 317h10v1h-10zM190 317h10v1h-10zM284 317h21v1h-21zM724 317h2v1h-2zM1306 317h1v1h-1zM89 318h47v1h-47zM200 318h10v1h-10zM267 318h17v1h-17zM726 318h1v1h-1zM1305 318h1v1h-1zM210 319h40v1h-40zM251 319h16v1h-16zM727 319h1v1h-1zM1305 319h1v1h-1zM250 320h1v1h-1zM728 320h2v1h-2zM1304 320h1v1h-1zM730 321h1v1h-1zM1303 321h1v1h-1zM731 322h1v1h-1zM1303 322h1v1h-1zM732 323h2v1h-2zM1302 323h1v1h-1zM734 324h1v1h-1zM1302 324h1v1h-1zM735 325h1v1h-1zM1301 325h1v1h-1zM736 326h2v1h-2zM1300 326h1v1h-1zM738 327h1v1h-1zM1300 327h1v1h-1zM739 328h1v1h-1zM1299 328h1v1h-1zM740 329h2v1h-2zM1299 329h1v1h-1zM742 330h1v1h-1zM1298 330h1v1h-1zM743 331h1v1h-1zM1297 331h1v1h-1zM744 332h2v1h-2zM1296 332h1v1h-1zM746 333h1v1h-1zM1295 333h1v1h-1zM747 334h1v1h-1zM1294 334h1v1h-1zM748 335h2v1h-2zM1294 335h1v1h-1zM750 336h1v1h-1zM1293 336h1v1h-1zM751 337h1v1h-1zM1292 337h1v1h-1zM752 338h2v1h-2zM1291 338h1v1h-1zM754 339h1v1h-1zM1290 339h1v1h-1zM755 340h2v1h-2zM1290 340h1v1h-1zM757 341h2v1h-2zM1289 341h1v1h-1zM759 342h2v1h-2zM1288 342h1v1h-1zM761 343h3v1h-3zM1287 343h1v1h-1zM764 344h2v1h-2zM1286 344h1v1h-1zM766 345h2v1h-2zM1286 345h1v1h-1zM768 346h2v1h-2zM1285 346h1v1h-1zM770 347h3v1h-3zM1284 347h1v1h-1zM773 348h2v1h-2zM1283 348h1v1h-1zM775 349h3v1h-3zM1282 349h1v1h-1zM778 350h2v1h-2zM1281 350h1v1h-1zM780 351h3v1h-3zM1280 351h1v1h-1zM783 352h2v1h-2zM1279 352h1v1h-1zM785 353h2v1h-2zM1278 353h1v1h-1zM787 354h7v1h-7zM1277 354h1v1h-1zM794 355h6v1h-6zM1276 355h1v1h-1zM800 356h12v1h-12zM893 356h9v1h-9zM1274 356h2v1h-2zM812 357h12v1h-12zM881 357h12v1h-12zM902 357h8v1h-8zM1273 357h1v1h-1zM824 358h11v1h-11zM873 358h8v1h-8zM910 358h4v1h-4zM1272 358h1v1h-1zM835 359h10v1h-10zM846 359h27v1h-27zM914 359h3v1h-3zM1271 359h1v1h-1zM845 360h1v1h-1zM917 360h3v1h-3zM1270 360h1v1h-1zM920 361h3v1h-3zM1269 361h1v1h-1zM923 362h3v1h-3zM1268 362h1v1h-1zM926 363h3v1h-3zM1267 363h1v1h-1zM929 364h4v1h-4zM1265 364h2v1h-2zM933 365h3v1h-3zM1264 365h1v1h-1zM936 366h4v1h-4zM1263 366h1v1h-1zM940 367h3v1h-3zM1262 367h1v1h-1zM943 368h4v1h-4zM1260 368h2v1h-2zM947 369h3v1h-3zM1259 369h1v1h-1zM950 370h5v1h-5zM1258 370h1v1h-1zM955 371h4v1h-4zM1257 371h1v1h-1zM959 372h4v1h-4zM1255 372h2v1h-2zM963 373h5v1h-5zM1254 373h1v1h-1zM968 374h4v1h-4zM1253 374h1v1h-1zM972 375h5v1h-5zM1252 375h1v1h-1zM977 376h5v1h-5zM1007 376h17v1h-17zM1250 376h2v1h-2zM982 377h5v1h-5zM1003 377h4v1h-4zM1024 377h19v1h-19zM1249 377h1v1h-1zM987 378h6v1h-6zM998 378h5v1h-5zM1043 378h12v1h-12zM1248 378h1v1h-1zM993 379h5v1h-5zM1055 379h13v1h-13zM1246 379h2v1h-2zM1068 380h19v1h-19zM1245 380h1v1h-1zM1087 381h7v1h-7zM1244 381h1v1h-1zM1094 382h7v1h-7zM1242 382h2v1h-2zM1101 383h6v1h-6zM1241 383h1v1h-1zM1107 384h3v1h-3zM1240 384h1v1h-1zM1110 385h2v1h-2zM1239 385h1v1h-1zM1112 386h2v1h-2zM1237 386h2v1h-2zM1114 387h2v1h-2zM1236 387h1v1h-1zM1116 388h2v1h-2zM1234 388h2v1h-2zM1118 389h2v1h-2zM1232 389h2v1h-2zM1120 390h3v1h-3zM1229 390h3v1h-3zM1123 391h5v1h-5zM1227 391h2v1h-2zM1128 392h9v1h-9zM1225 392h2v1h-2zM1137 393h8v1h-8zM1223 393h2v1h-2zM1145 394h8v1h-8zM1220 394h3v1h-3zM1153 395h16v1h-16zM1206 395h14v1h-14zM1169 396h18v1h-18zM1188 396h18v1h-18zM1187 397h1v1h-1z"/>
</g>
<g shape-rendering="crispEdges">
<rect x="3" y="68" width="1849" height="1" fill="#FF0000"/>
<rect x="3" y="110" width="1849" height="1" fill="#FF0000"/>
<rect x="3" y="182" width="1849" height="1" fill="#FF0000"/>
<rect x="3" y="219" width="1849" height="1" fill="#FF0000"/>
<rect x="3" y="66" width="5" height="5" fill="#FF0000"/>
<rect x="4" y="67" width="3" height="3" fill="#FFFFF0"/>
<rect x="1847" y="66" width="5" height="5" fill="#FF0000"/>
<rect x="1848" y="67" width="3" height="3" fill="#FFFFF0"/>
<rect x="3" y="108" width="5" height="5" fill="#FF0000"/>
<rect x="4" y="109" width="3" height="3" fill="#FFFFF0"/>
<rect x="1847" y="108" width="5" height="5" fill="#FF0000"/>
<rect x="1848" y="109" width="3" height="3" fill="#FFFFF0"/>
<rect x="3" y="217" width="5" height="5" fill="#FF0000"/>
<rect x="4" y="218" width="3" height="3" fill="#FFFFF0"/>
<rect x="1847" y="217" width="5" height="5" fill="#FF0000"/>
<rect x="1848" y="218" width="3" height="3" fill="#FFFFF0"/>
</g>
<g shape-rendering="crispEdges">
<rect x="2" y="2" width="1851" height="1" fill="#000"/>
<rect x="2" y="2" width="1" height="505" fill="#000"/>
<rect x="1852" y="2" width="1" height="505" fill="#000"/>
<rect x="2" y="506" width="1851" height="1" fill="#000"/>
<rect x="2" y="508" width="1851" height="1" fill="#000"/>
<rect x="2" y="508" width="1" height="196" fill="#000"/>
<rect x="1852" y="508" width="1" height="196" fill="#000"/>
<rect x="2" y="703" width="1851" height="1" fill="#000"/>
</g>
<g clip-path="url(#cd)" fill="none" shape-rendering="crispEdges">
<path fill="#0000FF" stroke="none" d="M1441 518h3v1h-3zM1438 519h3v1h-3zM1436 520h2v1h-2zM1433 521h3v1h-3zM1430 522h3v1h-3zM1428 523h2v1h-2zM1425 524h3v1h-3zM1423 525h2v1h-2zM1421 526h2v1h-2zM1419 527h2v1h-2zM1417 528h2v1h-2zM1415 529h2v1h-2zM1413 530h2v1h-2zM1411 531h2v1h-2zM1409 532h2v1h-2zM1408 533h1v1h-1zM1407 534h1v1h-1zM1405 535h2v1h-2zM1404 536h1v1h-1zM1402 537h2v1h-2zM1186 538h7v1h-7zM1401 538h1v1h-1zM1183 539h3v1h-3zM1193 539h10v1h-10zM1400 539h1v1h-1zM1180 540h3v1h-3zM1203 540h27v1h-27zM1398 540h2v1h-2zM1177 541h3v1h-3zM1230 541h12v1h-12zM1397 541h1v1h-1zM1174 542h3v1h-3zM1242 542h9v1h-9zM1252 542h21v1h-21zM1396 542h1v1h-1zM1172 543h2v1h-2zM1251 543h1v1h-1zM1273 543h10v1h-10zM1393 543h3v1h-3zM1169 544h3v1h-3zM1283 544h12v1h-12zM1391 544h2v1h-2zM1167 545h2v1h-2zM1295 545h10v1h-10zM1389 545h2v1h-2zM1165 546h2v1h-2zM1305 546h9v1h-9zM1387 546h2v1h-2zM1162 547h3v1h-3zM1314 547h12v1h-12zM1339 547h14v1h-14zM1384 547h3v1h-3zM1160 548h2v1h-2zM1326 548h13v1h-13zM1353 548h10v1h-10zM1382 548h2v1h-2zM1158 549h2v1h-2zM1363 549h14v1h-14zM1380 549h2v1h-2zM1156 550h2v1h-2zM1377 550h3v1h-3zM1154 551h2v1h-2zM1152 552h2v1h-2zM1150 553h2v1h-2zM1148 554h2v1h-2zM1146 555h2v1h-2zM1144 556h2v1h-2zM1142 557h2v1h-2zM1140 558h2v1h-2zM1138 559h2v1h-2zM1136 560h2v1h-2zM1135 561h1v1h-1zM1133 562h2v1h-2zM1131 563h2v1h-2zM1130 564h1v1h-1zM1128 565h2v1h-2zM1126 566h2v1h-2zM1125 567h1v1h-1zM1123 568h2v1h-2zM1122 569h1v1h-1zM1121 570h1v1h-1zM1121 571h1v1h-1zM1120 572h1v1h-1zM1119 573h1v1h-1zM1118 574h1v1h-1zM1117 575h1v1h-1zM1117 576h1v1h-1zM1116 577h1v1h-1zM1115 578h1v1h-1zM1114 579h1v1h-1zM1113 580h1v1h-1zM1113 581h1v1h-1zM1112 582h1v1h-1zM1111 583h1v1h-1zM1110 584h1v1h-1zM1109 585h1v1h-1zM583 586h16v1h-16zM1109 586h1v1h-1zM574 587h9v1h-9zM599 587h6v1h-6zM1108 587h1v1h-1zM568 588h6v1h-6zM605 588h5v1h-5zM1107 588h1v1h-1zM563 589h5v1h-5zM610 589h7v1h-7zM1106 589h1v1h-1zM560 590h3v1h-3zM617 590h7v1h-7zM1105 590h1v1h-1zM558 591h2v1h-2zM624 591h6v1h-6zM1104 591h1v1h-1zM556 592h2v1h-2zM630 592h4v1h-4zM1103 592h1v1h-1zM554 593h2v1h-2zM634 593h4v1h-4zM1102 593h1v1h-1zM551 594h3v1h-3zM638 594h4v1h-4zM1101 594h1v1h-1zM549 595h2v1h-2zM642 595h4v1h-4zM1101 595h1v1h-1zM547 596h2v1h-2zM646 596h3v1h-3zM1100 596h1v1h-1zM545 597h2v1h-2zM649 597h4v1h-4zM1099 597h1v1h-1zM543 598h2v1h-2zM653 598h3v1h-3zM1098 598h1v1h-1zM541 599h2v1h-2zM656 599h3v1h-3zM1097 599h1v1h-1zM539 600h2v1h-2zM659 600h4v1h-4zM1096 600h1v1h-1zM537 601h2v1h-2zM663 601h4v1h-4zM1095 601h1v1h-1zM535 602h2v1h-2zM667 602h4v1h-4zM1094 602h1v1h-1zM473 603h14v1h-14zM533 603h2v1h-2zM671 603h4v1h-4zM1093 603h1v1h-1zM460 604h13v1h-13zM487 604h5v1h-5zM528 604h5v1h-5zM675 604h4v1h-4zM1092 604h1v1h-1zM451 605h9v1h-9zM492 605h5v1h-5zM520 605h8v1h-8zM679 605h5v1h-5zM1091 605h1v1h-1zM448 606h3v1h-3zM497 606h23v1h-23zM684 606h5v1h-5zM1090 606h2v1h-2zM292 607h21v1h-21zM446 607h2v1h-2zM689 607h3v1h-3zM1089 607h1v1h-1zM226 608h10v1h-10zM260 608h32v1h-32zM313 608h9v1h-9zM327 608h18v1h-18zM444 608h2v1h-2zM692 608h1v1h-1zM1088 608h1v1h-1zM224 609h2v1h-2zM236 609h24v1h-24zM322 609h5v1h-5zM345 609h7v1h-7zM442 609h2v1h-2zM692 609h1v1h-1zM1087 609h1v1h-1zM221 610h3v1h-3zM352 610h5v1h-5zM439 610h3v1h-3zM693 610h1v1h-1zM1085 610h2v1h-2zM219 611h2v1h-2zM357 611h2v1h-2zM437 611h2v1h-2zM694 611h1v1h-1zM1084 611h1v1h-1zM217 612h2v1h-2zM359 612h2v1h-2zM433 612h4v1h-4zM694 612h1v1h-1zM1083 612h1v1h-1zM33 613h6v1h-6zM214 613h3v1h-3zM361 613h3v1h-3zM428 613h5v1h-5zM695 613h1v1h-1zM1082 613h1v1h-1zM30 614h3v1h-3zM39 614h5v1h-5zM212 614h2v1h-2zM364 614h2v1h-2zM422 614h6v1h-6zM696 614h1v1h-1zM1080 614h2v1h-2zM27 615h3v1h-3zM44 615h5v1h-5zM209 615h3v1h-3zM366 615h2v1h-2zM418 615h4v1h-4zM696 615h1v1h-1zM1079 615h1v1h-1zM24 616h3v1h-3zM49 616h4v1h-4zM207 616h2v1h-2zM368 616h3v1h-3zM414 616h4v1h-4zM697 616h1v1h-1zM1078 616h1v1h-1zM21 617h3v1h-3zM53 617h2v1h-2zM204 617h3v1h-3zM371 617h8v1h-8zM411 617h3v1h-3zM698 617h1v1h-1zM1077 617h1v1h-1zM16 618h5v1h-5zM55 618h2v1h-2zM202 618h2v1h-2zM379 618h11v1h-11zM408 618h3v1h-3zM698 618h1v1h-1zM1075 618h2v1h-2zM10 619h6v1h-6zM57 619h2v1h-2zM199 619h3v1h-3zM390 619h10v1h-10zM405 619h3v1h-3zM699 619h1v1h-1zM1074 619h1v1h-1zM4 620h6v1h-6zM59 620h2v1h-2zM197 620h2v1h-2zM400 620h5v1h-5zM700 620h1v1h-1zM1073 620h1v1h-1zM3 621h1v1h-1zM61 621h2v1h-2zM194 621h3v1h-3zM700 621h1v1h-1zM1072 621h1v1h-1zM63 622h2v1h-2zM191 622h3v1h-3zM701 622h1v1h-1zM1071 622h1v1h-1zM65 623h2v1h-2zM188 623h3v1h-3zM702 623h1v1h-1zM1070 623h1v1h-1zM67 624h3v1h-3zM185 624h3v1h-3zM702 624h1v1h-1zM1069 624h1v1h-1zM70 625h4v1h-4zM182 625h3v1h-3zM703 625h1v1h-1zM1068 625h1v1h-1zM74 626h4v1h-4zM180 626h2v1h-2zM704 626h1v1h-1zM1067 626h1v1h-1zM78 627h4v1h-4zM167 627h13v1h-13zM704 627h1v1h-1zM1066 627h1v1h-1zM82 628h7v1h-7zM159 628h8v1h-8zM705 628h1v1h-1zM1065 628h1v1h-1zM89 629h9v1h-9zM153 629h6v1h-6zM706 629h1v1h-1zM1064 629h1v1h-1zM98 630h11v1h-11zM148 630h5v1h-5zM706 630h1v1h-1zM1063 630h1v1h-1zM109 631h39v1h-39zM707 631h2v1h-2zM1062 631h1v1h-1zM709 632h1v1h-1zM1061 632h1v1h-1zM710 633h1v1h-1zM1060 633h1v1h-1zM711 634h1v1h-1zM1059 634h1v1h-1zM712 635h1v1h-1zM1058 635h1v1h-1zM713 636h1v1h-1zM1057 636h1v1h-1zM714 637h1v1h-1zM1056 637h1v1h-1zM715 638h1v1h-1zM1055 638h1v1h-1zM716 639h1v1h-1zM1054 639h1v1h-1zM717 640h1v1h-1zM1053 640h1v1h-1zM718 641h1v1h-1zM1053 641h1v1h-1zM719 642h1v1h-1zM1052 642h1v1h-1zM720 643h1v1h-1zM1051 643h1v1h-1zM721 644h1v1h-1zM1050 644h1v1h-1zM722 645h1v1h-1zM1049 645h1v1h-1zM723 646h1v1h-1zM1048 646h1v1h-1zM724 647h1v1h-1zM1047 647h1v1h-1zM725 648h1v1h-1zM897 648h4v1h-4zM1047 648h1v1h-1zM726 649h1v1h-1zM894 649h3v1h-3zM901 649h2v1h-2zM1046 649h1v1h-1zM727 650h1v1h-1zM891 650h3v1h-3zM903 650h3v1h-3zM1045 650h1v1h-1zM728 651h2v1h-2zM888 651h3v1h-3zM906 651h2v1h-2zM1044 651h1v1h-1zM730 652h1v1h-1zM885 652h3v1h-3zM908 652h2v1h-2zM1043 652h1v1h-1zM731 653h1v1h-1zM881 653h4v1h-4zM910 653h2v1h-2zM1042 653h1v1h-1zM732 654h1v1h-1zM876 654h5v1h-5zM912 654h3v1h-3zM1042 654h1v1h-1zM733 655h1v1h-1zM872 655h4v1h-4zM915 655h1v1h-1zM1041 655h1v1h-1zM734 656h1v1h-1zM868 656h4v1h-4zM916 656h2v1h-2zM1040 656h1v1h-1zM735 657h1v1h-1zM864 657h4v1h-4zM918 657h1v1h-1zM1039 657h1v1h-1zM736 658h1v1h-1zM861 658h3v1h-3zM919 658h1v1h-1zM1038 658h1v1h-1zM737 659h1v1h-1zM857 659h4v1h-4zM920 659h2v1h-2zM1038 659h1v1h-1zM738 660h1v1h-1zM854 660h3v1h-3zM922 660h1v1h-1zM1037 660h1v1h-1zM739 661h2v1h-2zM849 661h5v1h-5zM923 661h1v1h-1zM1036 661h1v1h-1zM741 662h1v1h-1zM842 662h7v1h-7zM924 662h2v1h-2zM1035 662h1v1h-1zM742 663h2v1h-2zM836 663h6v1h-6zM926 663h1v1h-1zM1034 663h1v1h-1zM744 664h1v1h-1zM832 664h4v1h-4zM927 664h1v1h-1zM1033 664h1v1h-1zM745 665h1v1h-1zM828 665h4v1h-4zM928 665h2v1h-2zM1033 665h1v1h-1zM746 666h2v1h-2zM824 666h4v1h-4zM930 666h1v1h-1zM1032 666h1v1h-1zM748 667h1v1h-1zM820 667h4v1h-4zM931 667h2v1h-2zM1031 667h1v1h-1zM749 668h1v1h-1zM817 668h3v1h-3zM933 668h1v1h-1zM1030 668h1v1h-1zM750 669h2v1h-2zM815 669h2v1h-2zM934 669h2v1h-2zM1029 669h1v1h-1zM752 670h1v1h-1zM813 670h2v1h-2zM936 670h2v1h-2zM1029 670h1v1h-1zM753 671h1v1h-1zM810 671h3v1h-3zM938 671h2v1h-2zM1028 671h1v1h-1zM754 672h2v1h-2zM808 672h2v1h-2zM940 672h1v1h-1zM1027 672h1v1h-1zM756 673h5v1h-5zM806 673h2v1h-2zM941 673h2v1h-2zM1026 673h1v1h-1zM761 674h4v1h-4zM803 674h3v1h-3zM943 674h2v1h-2zM1025 674h1v1h-1zM765 675h4v1h-4zM800 675h3v1h-3zM945 675h2v1h-2zM1025 675h1v1h-1zM769 676h5v1h-5zM797 676h3v1h-3zM947 676h3v1h-3zM1024 676h1v1h-1zM774 677h4v1h-4zM794 677h3v1h-3zM950 677h5v1h-5zM1023 677h1v1h-1zM778 678h4v1h-4zM791 678h3v1h-3zM955 678h5v1h-5zM1022 678h1v1h-1zM782 679h4v1h-4zM788 679h3v1h-3zM960 679h4v1h-4zM1021 679h1v1h-1zM786 680h2v1h-2zM964 680h3v1h-3zM1020 680h1v1h-1zM967 681h2v1h-2zM1019 681h1v1h-1zM969 682h3v1h-3zM1019 682h1v1h-1zM972 683h2v1h-2zM1018 683h1v1h-1zM974 684h3v1h-3zM1017 684h1v1h-1zM977 685h2v1h-2zM1016 685h1v1h-1zM979 686h2v1h-2zM1015 686h1v1h-1zM981 687h2v1h-2zM1014 687h1v1h-1zM983 688h2v1h-2zM1013 688h1v1h-1zM985 689h2v1h-2zM1013 689h1v1h-1zM987 690h2v1h-2zM1012 690h1v1h-1zM989 691h2v1h-2zM1008 691h4v1h-4zM991 692h2v1h-2zM1002 692h6v1h-6zM993 693h2v1h-2zM997 693h5v1h-5zM995 694h2v1h-2z"/>
<polyline stroke="#FF0000" stroke-width="2" points="3,620 35,619 55,619 67,620 83,620.7 99,622.4 131,623 147,624.4 163,626 179,627.6 211,627.6 227,624.4 243,622.2 259,620.7 275,617.4 291,615.2 307,612.2 323,610 339,609.2 355,609.6 371,610.5 387,611.5 403,612.8 435,612.8 451,612.8 467,612.2 483,612 499,611.8 515,610.7 531,608.5 547,605.9 563,603.7 579,600.7 595,598 611,596.7 627,595.4 643,594.1 659,593.5 675,593.8 691,594.3 707,599.4 723,607.2 739,615.1 755,622.2 771,632.5 787,642.3 803,649.9 819,657.8 835,664.1 851,667.3 867,667.6 883,667.6 899,665.4 915,662.2 931,661.7 947,661.3 963,663.3 979,665.2 995,669.1 1011,673.1 1027,675 1043,675 1059,673.8 1075,668 1091,660.5 1107,649.7 1123,636.4 1139,623 1155,606 1171,591.3 1187,578.5 1203,569 1219,559.7 1235,552.9 1251,547.5 1267,544.3 1283,542.2 1299,541.8 1315,542.5 1331,543.6 1347,544.9 1363,545.8 1379,545.8 1395,545.8 1411,544.9 1427,542.2 1443,540"/>
</g>
<g clip-path="url(#cd)" shape-rendering="crispEdges">
<rect x="2" y="626" width="2" height="3" fill="#008000"/>
<rect x="18" y="623" width="2" height="3" fill="#FF0000"/>
<rect x="34" y="618" width="2" height="8" fill="#FF0000"/>
<rect x="50" y="623" width="2" height="3" fill="#FF0000"/>
<rect x="66" y="626" width="2" height="7" fill="#008000"/>
<rect x="82" y="626" width="2" height="11" fill="#008000"/>
<rect x="98" y="626" width="2" height="11" fill="#008000"/>
<rect x="114" y="626" width="2" height="11" fill="#008000"/>
<rect x="130" y="626" width="2" height="10" fill="#008000"/>
<rect x="146" y="626" width="2" height="9" fill="#008000"/>
<rect x="162" y="626" width="2" height="4" fill="#008000"/>
<rect x="178" y="626" width="2" height="2" fill="#008000"/>
<rect x="194" y="616" width="2" height="10" fill="#FF0000"/>
<rect x="210" y="609" width="2" height="17" fill="#FF0000"/>
<rect x="226" y="604" width="2" height="22" fill="#FF0000"/>
<rect x="242" y="610" width="2" height="16" fill="#FF0000"/>
<rect x="258" y="612" width="2" height="14" fill="#FF0000"/>
<rect x="274" y="615" width="2" height="11" fill="#FF0000"/>
<rect x="290" y="616" width="2" height="10" fill="#FF0000"/>
<rect x="306" y="619" width="2" height="7" fill="#FF0000"/>
<rect x="322" y="623" width="2" height="3" fill="#FF0000"/>
<rect x="338" y="625" width="2" height="1" fill="#FF0000"/>
<rect x="354" y="626" width="2" height="4" fill="#008000"/>
<rect x="370" y="626" width="2" height="10" fill="#008000"/>
<rect x="386" y="626" width="2" height="10" fill="#008000"/>
<rect x="402" y="626" width="2" height="11" fill="#008000"/>
<rect x="418" y="626" width="2" height="5" fill="#008000"/>
<rect x="434" y="625" width="2" height="1" fill="#FF0000"/>
<rect x="450" y="616" width="2" height="10" fill="#FF0000"/>
<rect x="466" y="615" width="2" height="11" fill="#FF0000"/>
<rect x="482" y="615" width="2" height="11" fill="#FF0000"/>
<rect x="498" y="619" width="2" height="7" fill="#FF0000"/>
<rect x="514" y="621" width="2" height="5" fill="#FF0000"/>
<rect x="530" y="620" width="2" height="6" fill="#FF0000"/>
<rect x="546" y="612" width="2" height="14" fill="#FF0000"/>
<rect x="562" y="609" width="2" height="17" fill="#FF0000"/>
<rect x="578" y="610" width="2" height="16" fill="#FF0000"/>
<rect x="594" y="611" width="2" height="15" fill="#FF0000"/>
<rect x="610" y="616" width="2" height="10" fill="#FF0000"/>
<rect x="626" y="621" width="2" height="5" fill="#FF0000"/>
<rect x="642" y="626" width="2" height="4" fill="#008000"/>
<rect x="658" y="626" width="2" height="10" fill="#008000"/>
<rect x="674" y="626" width="2" height="15" fill="#008000"/>
<rect x="690" y="626" width="2" height="17" fill="#008000"/>
<rect x="706" y="626" width="2" height="42" fill="#008000"/>
<rect x="722" y="626" width="2" height="54" fill="#008000"/>
<rect x="738" y="626" width="2" height="63" fill="#008000"/>
<rect x="754" y="626" width="2" height="65" fill="#008000"/>
<rect x="770" y="626" width="2" height="59" fill="#008000"/>
<rect x="786" y="626" width="2" height="50" fill="#008000"/>
<rect x="802" y="626" width="2" height="30" fill="#008000"/>
<rect x="818" y="626" width="2" height="15" fill="#008000"/>
<rect x="834" y="626" width="2" height="1" fill="#008000"/>
<rect x="850" y="618" width="2" height="8" fill="#FF0000"/>
<rect x="866" y="609" width="2" height="17" fill="#FF0000"/>
<rect x="882" y="607" width="2" height="19" fill="#FF0000"/>
<rect x="898" y="604" width="2" height="22" fill="#FF0000"/>
<rect x="914" y="618" width="2" height="8" fill="#FF0000"/>
<rect x="930" y="626" width="2" height="9" fill="#008000"/>
<rect x="946" y="626" width="2" height="21" fill="#008000"/>
<rect x="962" y="626" width="2" height="27" fill="#008000"/>
<rect x="978" y="626" width="2" height="31" fill="#008000"/>
<rect x="994" y="626" width="2" height="33" fill="#008000"/>
<rect x="1010" y="626" width="2" height="24" fill="#008000"/>
<rect x="1026" y="620" width="2" height="6" fill="#FF0000"/>
<rect x="1042" y="596" width="2" height="30" fill="#FF0000"/>
<rect x="1058" y="576" width="2" height="50" fill="#FF0000"/>
<rect x="1074" y="562" width="2" height="64" fill="#FF0000"/>
<rect x="1090" y="557" width="2" height="69" fill="#FF0000"/>
<rect x="1106" y="546" width="2" height="80" fill="#FF0000"/>
<rect x="1122" y="539" width="2" height="87" fill="#FF0000"/>
<rect x="1138" y="545" width="2" height="81" fill="#FF0000"/>
<rect x="1154" y="555" width="2" height="71" fill="#FF0000"/>
<rect x="1170" y="564" width="2" height="62" fill="#FF0000"/>
<rect x="1186" y="574" width="2" height="52" fill="#FF0000"/>
<rect x="1202" y="589" width="2" height="37" fill="#FF0000"/>
<rect x="1218" y="600" width="2" height="26" fill="#FF0000"/>
<rect x="1234" y="611" width="2" height="15" fill="#FF0000"/>
<rect x="1250" y="621" width="2" height="5" fill="#FF0000"/>
<rect x="1266" y="624" width="2" height="2" fill="#FF0000"/>
<rect x="1282" y="626" width="2" height="3" fill="#008000"/>
<rect x="1298" y="626" width="2" height="5" fill="#008000"/>
<rect x="1314" y="626" width="2" height="7" fill="#008000"/>
<rect x="1330" y="626" width="2" height="7" fill="#008000"/>
<rect x="1346" y="626" width="2" height="5" fill="#008000"/>
<rect x="1362" y="626" width="2" height="6" fill="#008000"/>
<rect x="1378" y="626" width="2" height="6" fill="#008000"/>
<rect x="1394" y="619" width="2" height="7" fill="#FF0000"/>
<rect x="1410" y="608" width="2" height="18" fill="#FF0000"/>
<rect x="1426" y="601" width="2" height="25" fill="#FF0000"/>
<rect x="1442" y="599" width="2" height="27" fill="#FF0000"/>
</g>
<g shape-rendering="crispEdges">
<rect x="1853" y="46" width="2" height="1" fill="#000"/>
<rect x="1853" y="95" width="2" height="1" fill="#000"/>
<rect x="1853" y="193" width="2" height="1" fill="#000"/>
<rect x="1853" y="242" width="2" height="1" fill="#000"/>
<rect x="1853" y="291" width="2" height="1" fill="#000"/>
<rect x="1853" y="340" width="2" height="1" fill="#000"/>
<rect x="1853" y="389" width="2" height="1" fill="#000"/>
<rect x="1853" y="438" width="2" height="1" fill="#000"/>
<rect x="1853" y="487" width="2" height="1" fill="#000"/>
<rect x="1853" y="510" width="1" height="1" fill="#000"/>
<rect x="1853" y="626" width="1" height="1" fill="#000"/>
<rect x="1853" y="702" width="1" height="1" fill="#000"/>
</g>
<g shape-rendering="crispEdges">
<rect x="3" y="704" width="1" height="3" fill="#000"/>
<rect x="99" y="704" width="1" height="3" fill="#000"/>
<rect x="195" y="704" width="1" height="3" fill="#000"/>
<rect x="291" y="704" width="1" height="3" fill="#000"/>
<rect x="387" y="704" width="1" height="3" fill="#000"/>
<rect x="483" y="704" width="1" height="3" fill="#000"/>
<rect x="579" y="704" width="1" height="3" fill="#000"/>
<rect x="675" y="704" width="1" height="3" fill="#000"/>
<rect x="771" y="704" width="1" height="3" fill="#000"/>
<rect x="867" y="704" width="1" height="3" fill="#000"/>
<rect x="963" y="704" width="1" height="3" fill="#000"/>
<rect x="1059" y="704" width="1" height="3" fill="#000"/>
<rect x="1155" y="704" width="1" height="3" fill="#000"/>
<rect x="1251" y="704" width="1" height="3" fill="#000"/>
<rect x="1347" y="704" width="1" height="3" fill="#000"/>
<rect x="1443" y="704" width="1" height="3" fill="#000"/>
</g>
<text x="6.70" y="17" fill="#000" stroke="#000" textLength="63.30" lengthAdjust="spacingAndGlyphs">EURUSD,H4</text>
<text x="78.50" y="17" fill="#000" stroke="#000" textLength="45.80" lengthAdjust="spacingAndGlyphs">1.08512</text>
<text x="128.50" y="17" fill="#000" stroke="#000" textLength="45.60" lengthAdjust="spacingAndGlyphs">1.08670</text>
<text x="178.40" y="17" fill="#000" stroke="#000" textLength="45.40" lengthAdjust="spacingAndGlyphs">1.08400</text>
<text x="228.30" y="17" fill="#000" stroke="#000" textLength="45.80" lengthAdjust="spacingAndGlyphs">1.08513</text>
<text x="6.50" y="524" fill="#000" stroke="#000" textLength="85.21" lengthAdjust="spacingAndGlyphs">MACD(12,26,9)</text>
<text x="96.80" y="524" fill="#000" stroke="#000" textLength="50.74" lengthAdjust="spacingAndGlyphs">0.004721</text>
<text x="153.70" y="524" fill="#000" stroke="#000" textLength="50.74" lengthAdjust="spacingAndGlyphs">0.003803</text>
<text x="211.00" y="524" fill="#000" stroke="#000" textLength="51.22" lengthAdjust="spacingAndGlyphs">0.001193</text>
<text x="267.60" y="524" fill="#000" stroke="#000" textLength="51.94" lengthAdjust="spacingAndGlyphs">0.000000</text>
<text x="1858.60" y="51" fill="#000" stroke="#000" textLength="46.21" lengthAdjust="spacingAndGlyphs">1.10010</text>
<text x="1858.60" y="100" fill="#000" stroke="#000" textLength="46.21" lengthAdjust="spacingAndGlyphs">1.09260</text>
<text x="1858.60" y="198" fill="#000" stroke="#000" textLength="46.21" lengthAdjust="spacingAndGlyphs">1.07730</text>
<text x="1858.60" y="247" fill="#000" stroke="#000" textLength="46.21" lengthAdjust="spacingAndGlyphs">1.06980</text>
<text x="1858.60" y="296" fill="#000" stroke="#000" textLength="46.21" lengthAdjust="spacingAndGlyphs">1.06215</text>
<text x="1858.60" y="345" fill="#000" stroke="#000" textLength="46.21" lengthAdjust="spacingAndGlyphs">1.05465</text>
<text x="1858.60" y="394" fill="#000" stroke="#000" textLength="46.21" lengthAdjust="spacingAndGlyphs">1.04700</text>
<text x="1858.60" y="443" fill="#000" stroke="#000" textLength="46.21" lengthAdjust="spacingAndGlyphs">1.03950</text>
<text x="1858.60" y="492" fill="#000" stroke="#000" textLength="46.21" lengthAdjust="spacingAndGlyphs">1.03185</text>
<text x="1857.00" y="522" fill="#000" stroke="#000" textLength="52.15" lengthAdjust="spacingAndGlyphs">0.005105</text>
<text x="1856.80" y="631" fill="#000" stroke="#000" textLength="23.54" lengthAdjust="spacingAndGlyphs">0.00</text>
<text x="1855.30" y="700" fill="#000" stroke="#000" textLength="58.16" lengthAdjust="spacingAndGlyphs">-0.003356</text>
<text x="1.40" y="719" fill="#000" stroke="#000" textLength="70.89" lengthAdjust="spacingAndGlyphs">22 Dec 2022</text>
<text x="97.40" y="719" fill="#000" stroke="#000" textLength="75.38" lengthAdjust="spacingAndGlyphs">23 Dec 00:00</text>
<text x="193.40" y="719" fill="#000" stroke="#000" textLength="75.38" lengthAdjust="spacingAndGlyphs">27 Dec 00:00</text>
<text x="289.40" y="719" fill="#000" stroke="#000" textLength="75.38" lengthAdjust="spacingAndGlyphs">28 Dec 00:00</text>
<text x="385.40" y="719" fill="#000" stroke="#000" textLength="75.38" lengthAdjust="spacingAndGlyphs">29 Dec 00:00</text>
<text x="481.40" y="719" fill="#000" stroke="#000" textLength="75.38" lengthAdjust="spacingAndGlyphs">30 Dec 00:00</text>
<text x="577.40" y="719" fill="#000" stroke="#000" textLength="65.34" lengthAdjust="spacingAndGlyphs">2 Jan 00:00</text>
<text x="673.40" y="719" fill="#000" stroke="#000" textLength="65.34" lengthAdjust="spacingAndGlyphs">3 Jan 00:00</text>
<text x="770.40" y="719" fill="#000" stroke="#000" textLength="64.34" lengthAdjust="spacingAndGlyphs">4 Jan 00:00</text>
<text x="865.40" y="719" fill="#000" stroke="#000" textLength="65.34" lengthAdjust="spacingAndGlyphs">5 Jan 00:00</text>
<text x="961.40" y="719" fill="#000" stroke="#000" textLength="65.34" lengthAdjust="spacingAndGlyphs">6 Jan 00:00</text>
<text x="1057.40" y="719" fill="#000" stroke="#000" textLength="65.34" lengthAdjust="spacingAndGlyphs">9 Jan 00:00</text>
<text x="1153.40" y="719" fill="#000" stroke="#000" textLength="72.30" lengthAdjust="spacingAndGlyphs">10 Jan 00:00</text>
<text x="1249.40" y="719" fill="#000" stroke="#000" textLength="72.38" lengthAdjust="spacingAndGlyphs">11 Jan 00:00</text>
<text x="1345.40" y="719" fill="#000" stroke="#000" textLength="72.30" lengthAdjust="spacingAndGlyphs">12 Jan 00:00</text>
<text x="1441.40" y="719" fill="#000" stroke="#000" textLength="72.30" lengthAdjust="spacingAndGlyphs">13 Jan 00:00</text>
<rect x="1854" y="62" width="56" height="14" fill="#FF0000" shape-rendering="crispEdges"/>
<rect x="1854" y="104" width="56" height="14" fill="#FF0000" shape-rendering="crispEdges"/>
<rect x="1854" y="136" width="56" height="14" fill="#000" shape-rendering="crispEdges"/>
<rect x="1854" y="176" width="56" height="14" fill="#FF0000" shape-rendering="crispEdges"/>
<rect x="1854" y="213" width="56" height="14" fill="#FF0000" shape-rendering="crispEdges"/>
<text x="1859.00" y="74" fill="#FFF" stroke="#FFF" textLength="45.81" lengthAdjust="spacingAndGlyphs">1.09666</text>
<text x="1859.00" y="116" fill="#FFF" stroke="#FFF" textLength="45.81" lengthAdjust="spacingAndGlyphs">1.09024</text>
<text x="1859.00" y="188" fill="#FFF" stroke="#FFF" textLength="45.81" lengthAdjust="spacingAndGlyphs">1.07914</text>
<text x="1859.00" y="225" fill="#FFF" stroke="#FFF" textLength="45.81" lengthAdjust="spacingAndGlyphs">1.07339</text>
<text x="1859.00" y="148" fill="#FFF" stroke="#FFF" textLength="46.22" lengthAdjust="spacingAndGlyphs">1.08513</text>
</svg></body></html>
